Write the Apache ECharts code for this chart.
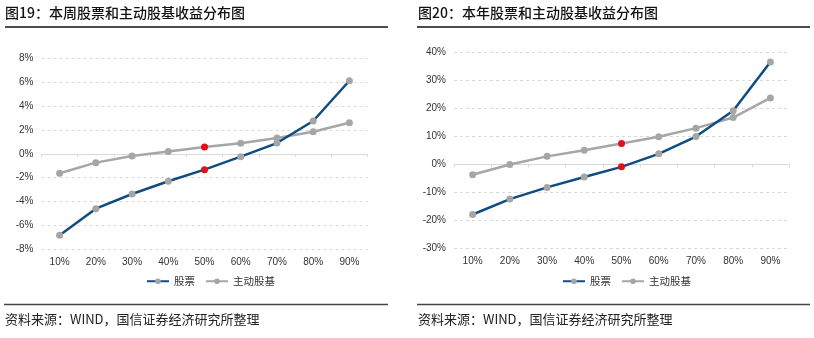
<!DOCTYPE html>
<html><head><meta charset="utf-8">
<script src="https://cdn.jsdelivr.net/npm/echarts@6/dist/echarts.min.js"></script>
<style>html,body{margin:0;padding:0;background:#fff}#c{width:814px;height:338px}</style>
</head><body><div id="c"></div>
<script>
const categories = ['10%','20%','30%','40%','50%','60%','70%','80%','90%'];
const weekStock = [-6.83, -4.6, -3.37, -2.3, -1.33, -0.24, 0.9, 2.75, 6.12];
const weekFund = [-1.63, -0.74, -0.18, 0.2, 0.57, 0.88, 1.32, 1.85, 2.6];
const yearStock = [-17.9, -12.4, -8.2, -4.5, -0.85, 3.8, 10.0, 19.2, 36.7];
const yearFund = [-3.7, 0.0, 2.9, 5.1, 7.5, 9.9, 13.0, 16.8, 23.8];
const seriesNames = ['股票', '主动股基'];
const titles = ['图19：本周股票和主动股基收益分布图', '图20：本年股票和主动股基收益分布图'];
const source = '资料来源：WIND，国信证券经济研究所整理';
const highlightIndex = 4;

const FONT = '"Liberation Sans", Arial, "Noto Sans CJK SC", sans-serif';
const CJK = '"Noto Sans CJK SC", "Liberation Sans", sans-serif';
const BLUE = '#0F4C81', GREY = '#A6A6A6', RED = '#E1101B';

function pts(arr){
  return arr.map((v,i)=> i===highlightIndex ? {value:v, itemStyle:{color:RED}} : v);
}
function lineSeries(name, arr, color, gi){
  return {
    name, type:'line', xAxisIndex: gi*2, yAxisIndex: gi, data: pts(arr),
    symbol:'circle', symbolSize:7,
    lineStyle:{color, width:2.5}, itemStyle:{color:GREY},
    emphasis:{disabled:true}, z: name===seriesNames[0]?3:2
  };
}
const grids = [
  {left:41.5, width:326, top:58.3, height:191},
  {left:454, width:335, top:52.7, height:195.6}
];
const yRanges = [[-8,8,2],[-30,40,10]];
const option = {
  animation:false,
  grid: grids,
  xAxis: [0,1].flatMap(gi=>[
    {type:'category', gridIndex:gi, data:categories, boundaryGap:true, position:'bottom',
     axisLine:{show:false, onZero:false}, axisTick:{show:false},
     axisLabel:{fontSize:10, color:'#333', margin:8, fontFamily:FONT}},
    {type:'category', gridIndex:gi, data:categories, boundaryGap:true, position:'bottom',
     axisLine:{show:true, onZero:true, lineStyle:{color:'#D9D9D9', width:1}},
     axisTick:{show:true, length:3, lineStyle:{color:'#D9D9D9'}}, axisLabel:{show:false}}
  ]),
  yAxis: yRanges.map((r,gi)=>({
    type:'value', gridIndex:gi, min:r[0], max:r[1], interval:r[2],
    axisLine:{show:false}, axisTick:{show:false},
    axisLabel:{formatter:'{value}%', fontSize:10, color:'#333', margin:8, fontFamily:FONT},
    splitLine:{lineStyle:{color:'#D9D9D9', type:[3,3]}}
  })),
  legend: [
    {data:seriesNames, left:141, top:271, itemWidth:22, itemHeight:7, itemGap:10,
     textStyle:{fontSize:10.5, color:'#333', fontFamily:CJK}, selectedMode:false},
    {data:seriesNames, left:557, top:271, itemWidth:22, itemHeight:7, itemGap:10,
     textStyle:{fontSize:10.5, color:'#333', fontFamily:CJK}, selectedMode:false}
  ],
  series: [
    lineSeries(seriesNames[0], weekStock, BLUE, 0),
    lineSeries(seriesNames[1], weekFund, GREY, 0),
    lineSeries(seriesNames[0], yearStock, BLUE, 1),
    lineSeries(seriesNames[1], yearFund, GREY, 1)
  ],
  graphic: [
    {type:'text', left:5, top:6, style:{text:titles[0], font:'500 14px '+CJK, fill:'#111'}},
    {type:'text', left:418, top:6, style:{text:titles[1], font:'500 14px '+CJK, fill:'#111'}},
    {type:'line', shape:{x1:5,y1:27,x2:388,y2:27}, style:{stroke:'#111', lineWidth:1.5}},
    {type:'line', shape:{x1:417,y1:27,x2:810,y2:27}, style:{stroke:'#111', lineWidth:1.5}},
    {type:'line', shape:{x1:4,y1:304.5,x2:388,y2:304.5}, style:{stroke:'#444', lineWidth:1.5}},
    {type:'line', shape:{x1:417,y1:304.5,x2:810,y2:304.5}, style:{stroke:'#444', lineWidth:1.5}},
    {type:'text', left:5, top:313, style:{text:source, font:'13px '+CJK, fill:'#222'}},
    {type:'text', left:418, top:313, style:{text:source, font:'13px '+CJK, fill:'#222'}}
  ]
};
const chart = echarts.init(document.getElementById('c'), null, {renderer:'canvas'});
chart.setOption(option);
</script>
</body></html>
